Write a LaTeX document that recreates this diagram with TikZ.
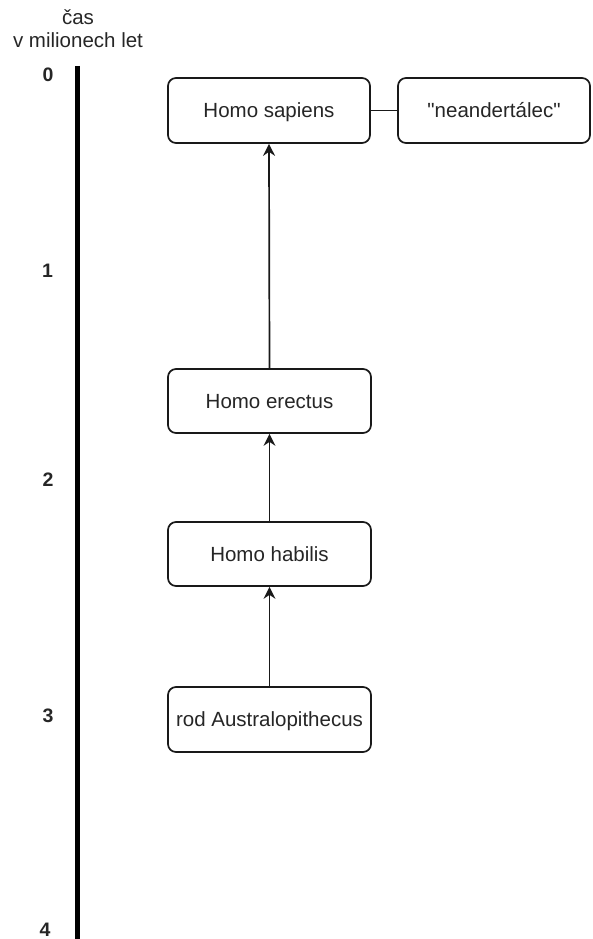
\documentclass[tikz,border=0pt]{standalone}
\usepackage{fontspec}
\setmainfont{Liberation Sans}
\usetikzlibrary{arrows.meta}
\begin{document}
\begin{tikzpicture}[x=1pt,y=-1pt,
  taxon/.style={draw=black!90, line width=1.7pt, rounded corners=8pt,
    minimum height=65pt, inner sep=0pt, text=black!85,
    text height=14.7pt, text depth=0pt,
    font=\fontsize{20.5}{24}\selectfont, fill=white},
  tick/.style={font=\bfseries\fontsize{19.5}{23}\selectfont, text=black!85, anchor=center},
  evo/.style={draw=black!90, line width=1.7pt, -{Stealth[length=12pt,width=12pt,inset=4pt]}},
  link/.style={draw=black!90, line width=1.7pt}
]
\useasboundingbox (0,0) rectangle (593,939);

% time axis
\coordinate (axtop) at (77.5,66);
\coordinate (axbot) at (77.5,939);
\draw[line width=5.5pt] (axtop) -- (axbot);
\node[font=\fontsize{20.5}{24}\selectfont, text=black!85, align=center, inner sep=0pt] (axlabel) at (78,29)
  {čas\\[-1pt]v milionech let};

\node[tick] (t0) at (48,75) {0};
\node[tick] (t1) at (47.5,270.5) {1};
\node[tick] (t2) at (48,480) {2};
\node[tick] (t3) at (48,716) {3};
\node[tick] (t4) at (45,930) {4};

% taxa
\node[taxon, minimum width=202pt] (sapiens) at (269,110.5) {Homo sapiens};
\node[taxon, minimum width=192pt] (neand) at (494,110.5) {\textquotedbl neandertálec\textquotedbl};
\node[taxon, minimum width=203pt, minimum height=64pt] (erectus) at (269.5,401) {Homo erectus};
\node[taxon, minimum width=203pt, minimum height=64pt] (habilis) at (269.5,554) {Homo habilis};
\node[taxon, minimum width=203pt] (austra) at (269.5,719.5) {rod Australopithecus};

% lineage
\draw[evo] (austra.north) -- (habilis.south);
\draw[evo] (habilis.north) -- (erectus.south);
\draw[evo] (erectus.north) -- (sapiens.south);
\draw[link] (sapiens.east) -- (neand.west);
\end{tikzpicture}
\end{document}
